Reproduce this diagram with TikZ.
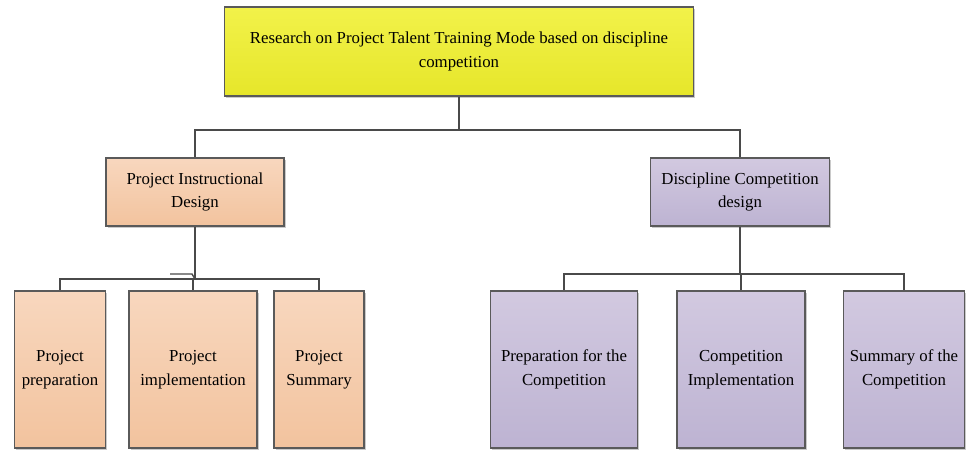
\documentclass[tikz,border=0pt]{standalone}
\usepackage{fontspec}
\setmainfont{Liberation Serif}
\usetikzlibrary{shadows}
\definecolor{edgegray}{HTML}{5A5A5A}
\definecolor{linegray}{HTML}{4A4A4A}
\definecolor{yelT}{HTML}{F2F24A}
\definecolor{yelB}{HTML}{E6E62A}
\definecolor{orgT}{HTML}{F8D7BE}
\definecolor{orgB}{HTML}{F2C39E}
\definecolor{purT}{HTML}{D2C9E0}
\definecolor{purB}{HTML}{BDB3D2}
\tikzset{
  x=1pt, y=-1pt,
  box/.style={draw=edgegray, line width=1.4pt, align=center, inner sep=2pt,
    font=\fontsize{16.8}{23.5}\selectfont,
    drop shadow={shadow xshift=1.5pt, shadow yshift=-1.5pt, fill=black!35, opacity=0.6}},
  topbox/.style={box, top color=yelT, bottom color=yelB},
  orgbox/.style={box, top color=orgT, bottom color=orgB},
  purbox/.style={box, top color=purT, bottom color=purB},
  link/.style={draw=linegray, line width=1.6pt}
}
\begin{document}
\begin{tikzpicture}
\useasboundingbox (0,0) rectangle (967,450);

% root
\node[topbox, minimum width=469pt, minimum height=89pt] (root) at (459,51.5)
  {Research on Project Talent Training Mode based on discipline\\competition};

% second level
\node[orgbox, minimum width=178pt, minimum height=68pt] (pid) at (195,192)
  {Project Instructional\\Design};
\node[purbox, minimum width=179pt, minimum height=68pt] (dcd) at (740,192)
  {Discipline Competition\\design};

% leaves, left branch
\node[orgbox, minimum width=91pt, minimum height=157pt] (pp) at (60,369.5)
  {Project\\preparation};
\node[orgbox, minimum width=128pt, minimum height=157pt] (pi) at (193,369.5)
  {Project\\implementation};
\node[orgbox, minimum width=90pt, minimum height=157pt] (ps) at (319,369.5)
  {Project\\Summary};

% leaves, right branch
\node[purbox, minimum width=147pt, minimum height=157pt] (cp) at (564,369.5)
  {Preparation for the\\Competition};
\node[purbox, minimum width=128pt, minimum height=157pt] (ci) at (741,369.5)
  {Competition\\Implementation};
\node[purbox, minimum width=121pt, minimum height=157pt] (cs) at (904,369.5)
  {Summary of the\\Competition};

% bus points
\coordinate (busA) at (459,130);
\coordinate (busB) at (195,279);
\coordinate (busC) at (740,274);
\coordinate (hookA) at (170,274);
\coordinate (hookB) at (192,274);

% connectors
\path[link] (root.south) -- (busA);
\path[link] (busA) -| (pid.north);
\path[link] (busA) -| (dcd.north);

\path[link] (pid.south) -- (busB);
\path[link] (busB) -| (pp.north);
\path[link] (busB) -| (pi.north);
\path[link] (busB) -| (ps.north);
\draw[linegray, line width=1.4pt] (hookA) -- (hookB) -- (busB);

\path[link] (dcd.south) -- (busC);
\path[link] (busC) -| (cp.north);
\path[link] (busC) -| (ci.north);
\path[link] (busC) -| (cs.north);
\end{tikzpicture}
\end{document}
